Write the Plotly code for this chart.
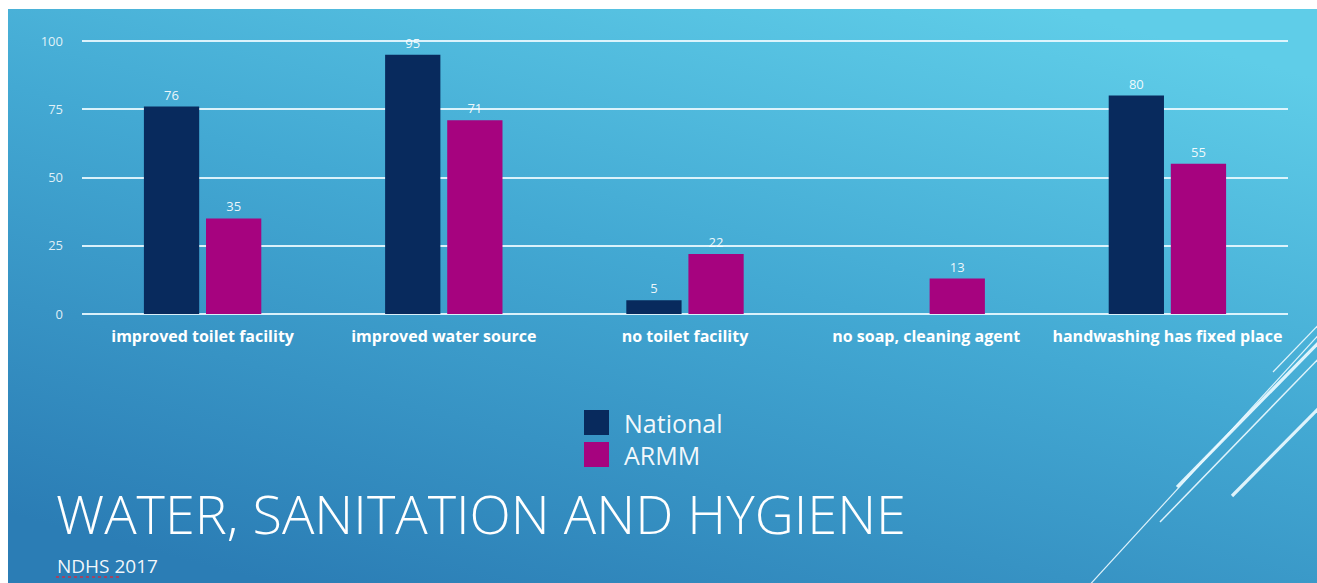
import base64
import plotly.graph_objects as go

# ---- data ----
categories = ["improved toilet facility", "improved water source", "no toilet facility",
              "no soap, cleaning agent", "handwashing has fixed place"]
national = [76, 95, 5, None, 80]
armm = [35, 71, 22, 13, 55]
series_names = ["National", "ARMM"]
y_ticks = [0, 25, 50, 75, 100]

W, H = 1317, 583
NAVY = "#082a5d"
MAGENTA = "#a6037f"
FONT = "Open Sans"
SX, SY = 8, 9  # white border of the slide picture (top / left)

# background gradient (slide) as an SVG image
svg = (
    "<svg xmlns='http://www.w3.org/2000/svg' width='1309' height='574' viewBox='0 0 1309 574' "
    "preserveAspectRatio='none'><defs>"
    "<linearGradient id='g' x1='0.8' y1='0' x2='0.2' y2='1'>"
    "<stop offset='0' stop-color='#5fcde8'/>"
    "<stop offset='0.45' stop-color='#43a9d3'/>"
    "<stop offset='1' stop-color='#2b7db5'/>"
    "</linearGradient></defs>"
    "<rect x='0' y='0' width='1309' height='574' fill='url(#g)'/></svg>"
)
svg_uri = "data:image/svg+xml;base64," + base64.b64encode(svg.encode()).decode()

fig = go.Figure()
fig.add_trace(go.Bar(
    name=series_names[0], x=categories, y=national, marker_color=NAVY, marker_line_width=0,
    text=[("" if v is None else str(v)) for v in national], textposition="outside",
    textfont=dict(color="rgba(255,255,255,0.92)", size=13, family=FONT),
    cliponaxis=False,
))
fig.add_trace(go.Bar(
    name=series_names[1], x=categories, y=armm, marker_color=MAGENTA, marker_line_width=0,
    text=[str(v) for v in armm], textposition="outside",
    textfont=dict(color="rgba(255,255,255,0.92)", size=13, family=FONT),
    cliponaxis=False,
))

def px(x):
    return x / W

def py(y):
    return 1 - y / H

shapes = []
# decorative diagonal lines (slide theme), pixel coords
deco = [
    ((1273, 372), (1325, 318), 1.2),
    ((1177, 487), (1325, 336), 3.2),
    ((1160, 522), (1325, 352), 1.5),
    ((1232, 496), (1325, 402), 3.2),
    ((1085, 590), (1325, 328), 1.2),
]
for (x0, y0), (x1, y1), w in deco:
    shapes.append(dict(type="line", xref="paper", yref="paper",
                       x0=px(x0), y0=py(y0), x1=px(x1), y1=py(y1),
                       line=dict(color="rgba(235,250,255,0.92)", width=w), layer="above"))
# custom legend squares
leg_y = [(410, 435), (442, 467)]
for (ya, yb), col in zip(leg_y, [NAVY, MAGENTA]):
    shapes.append(dict(type="rect", xref="paper", yref="paper",
                       x0=px(584), x1=px(609), y0=py(yb), y1=py(ya),
                       fillcolor=col, line=dict(width=0), layer="above"))
# spell-check squiggle under NDHS
shapes.append(dict(type="line", xref="paper", yref="paper",
                   x0=px(56), x1=px(120), y0=py(577), y1=py(577),
                   line=dict(color="rgba(220,40,60,0.9)", width=1.5, dash="dot")))

annotations = []
for (ya, yb), name in zip(leg_y, series_names):
    annotations.append(dict(text=name, xref="paper", yref="paper", x=px(622), y=py((ya + yb) / 2),
                            xanchor="left", yanchor="middle", showarrow=False,
                            font=dict(color="rgba(255,255,255,0.95)", size=25, family=FONT)))
annotations.append(dict(text="WATER, SANITATION AND HYGIENE", xref="paper", yref="paper",
                        x=px(54), y=py(513), xanchor="left", yanchor="middle", showarrow=False,
                        font=dict(color="white", size=54, family=FONT, weight=300)))
annotations.append(dict(text="NDHS 2017", xref="paper", yref="paper",
                        x=px(55), y=py(566), xanchor="left", yanchor="middle", showarrow=False,
                        font=dict(color="rgba(255,255,255,0.95)", size=19, family=FONT)))

# y axis: 0 at pixel 314, 100 at pixel 41; a little headroom so the 100 gridline is kept
Y_TOP = 100.6
unit = (314 - 41) / 100.0
fig.update_layout(
    width=W, height=H,
    margin=dict(l=0, r=0, t=0, b=0, pad=0),
    paper_bgcolor="white",
    plot_bgcolor="rgba(0,0,0,0)",
    showlegend=False,
    barmode="group",
    bargap=0.485,
    bargroupgap=0.11,
    images=[dict(source=svg_uri, xref="paper", yref="paper", x=px(SX), y=py(SY),
                 sizex=1 - px(SX), sizey=py(SY), xanchor="left", yanchor="top",
                 sizing="stretch", layer="below")],
    shapes=shapes,
    annotations=annotations,
    xaxis=dict(domain=[px(82), px(1288)], showgrid=False, showline=False, zeroline=False,
               automargin=False,
               ticks="outside", ticklen=8, tickcolor="rgba(0,0,0,0)",
               tickfont=dict(color="white", size=16, family=FONT, weight="bold")),
    yaxis=dict(domain=[py(314), py(314 - Y_TOP * unit)], range=[0, Y_TOP], tickvals=y_ticks,
               automargin=False,
               showgrid=True, gridcolor="rgba(235,250,255,0.9)", gridwidth=2,
               zeroline=True, zerolinecolor="rgba(235,250,255,0.9)", zerolinewidth=2,
               showline=False, ticklabelstandoff=18,
               tickfont=dict(color="rgba(255,255,255,0.85)", size=13, family=FONT)),
)

fig.write_html(
    "out.html",
    config={"displayModeBar": False},
    post_script=(
        "document.body.style.margin='0';"
        "document.documentElement.style.overflow='hidden';"
        "document.body.style.overflow='hidden';"
        "document.documentElement.style.background="
        "'linear-gradient(#ffffff 0px,#ffffff 9px,#5fcce7 9px,#3d9bca 100%)';"
    ),
)
